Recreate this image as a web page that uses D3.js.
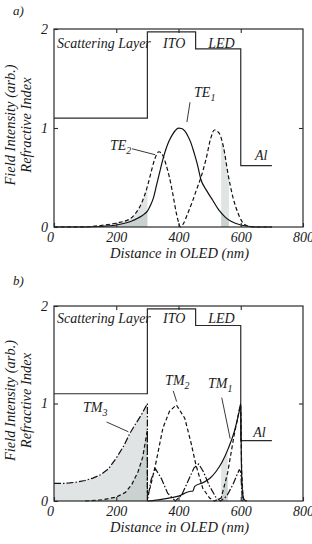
<!DOCTYPE html>
<html><head><meta charset="utf-8">
<script src="https://cdn.jsdelivr.net/npm/d3@7"></script>
</head>
<body style="margin:0;padding:0;background:#fff">
<script>
// ---------- data ----------
const xTicks = [0, 200, 400, 600, 800];
const yTicks = [0, 1, 2];
const layerNames = ["Scattering Layer", "ITO", "LED", "Al"];
const layerX = [0, 300, 455, 600, 700];
const layerN = [1.1, 1.97, 1.8, 0.62, 0.62];

// panel a) TE modes
const te1X = [0,100,150,200,230,250,270,290,300,310,320,330,340,350,360,370,380,390,400,410,420,430,440,450,460,472,490,510,530,550,570,600,630,660,700];
const te1Y = [0,0,0.005,0.02,0.04,0.06,0.09,0.13,0.16,0.22,0.3,0.43,0.56,0.685,0.79,0.87,0.93,0.975,0.998,0.995,0.97,0.92,0.85,0.75,0.64,0.48,0.37,0.27,0.17,0.1,0.055,0.02,0.005,0,0];
const te2X = [0,100,150,200,243,260,275,290,300,310,323,337,350,360,371,382,393,400,406,415,430,445,456,472,488,504,515,530,545,560,575,590,605,620,640,700];
const te2Y = [0,0.002,0.015,0.04,0.08,0.13,0.2,0.31,0.41,0.53,0.68,0.76,0.72,0.63,0.5,0.33,0.14,0.05,0,0.03,0.14,0.26,0.36,0.5,0.68,0.9,0.98,0.95,0.8,0.52,0.3,0.15,0.05,0.012,0,0];

// panel b) TM modes
const tm1X = [300,350,400,440,446,452,480,500,520,540,560,580,595,600,602,606,612,620];
const tm1Y = [0,0.02,0.05,0.1,0.1,0.15,0.19,0.23,0.3,0.4,0.54,0.72,0.92,1.0,0.4,0.08,0.01,0];
const tm2X = [100,150,200,230,250,270,285,300,300,310,328,350,371,393,420,440,456,478,500,515,537,558,579,590,598,600,603,608];
const tm2Y = [0,0.01,0.04,0.09,0.17,0.3,0.45,0.73,0.05,0.15,0.4,0.75,0.92,0.985,0.85,0.6,0.37,0.13,0.03,0,0.03,0.29,0.68,0.85,0.98,0.98,0.3,0];
const tm3X = [0,25,50,75,100,125,150,175,200,225,243,260,280,300,300,312,326,345,365,390,410,430,450,465,480,500,520,535,555,575,595,600,605];
const tm3Y = [0.18,0.18,0.185,0.195,0.21,0.235,0.27,0.33,0.44,0.57,0.69,0.78,0.88,1.0,0,0.22,0.33,0.23,0.08,0,0.06,0.2,0.34,0.38,0.3,0.15,0.04,0,0.05,0.17,0.32,0.3,0];

// shaded ranges (nm)
const shadeA = [[0,300],[537,562]];
const shadeB = [[0,300],[537,558]];

// ---------- drawing ----------
const W = 312, H = 544;
const FONT = "Liberation Serif";
const svg = d3.select("body").append("svg").attr("width", W).attr("height", H).style("display","block");

function seg(xs, ys, a, b) {
  const pts = xs.map((x,i)=>[x, ys[i]]);
  const valAt = (v, last) => {
    if (last) { for (let i = pts.length-1; i >= 0; i--) if (pts[i][0] === v) return pts[i][1]; }
    else { for (let i = 0; i < pts.length; i++) if (pts[i][0] === v) return pts[i][1]; }
    for (let i = 0; i < pts.length-1; i++) {
      const [x0,y0] = pts[i], [x1,y1] = pts[i+1];
      if (x0 <= v && v <= x1 && x1 > x0) return y0 + (y1-y0)*(v-x0)/(x1-x0);
    }
    return 0;
  };
  a = Math.max(a, xs[0]); b = Math.min(b, xs[xs.length-1]);
  const out = [[a, valAt(a, true)]];
  pts.forEach(p => { if (p[0] > a && p[0] < b) out.push(p); });
  out.push([b, valAt(b, false)]);
  return out;
}

function txt(g) { return g.append("text").attr("font-family", FONT).attr("font-style", "italic").attr("fill", "#1a1a1a"); }

function panel(cfg) {
  const x = d3.scaleLinear().domain([0,800]).range([54,303]);
  const y = d3.scaleLinear().domain([0,2]).range([cfg.yBot, cfg.yTop]);
  const g = svg.append("g");

  // shading
  const area = d3.area().x(d=>x(d[0])).y0(y(0)).y1(d=>y(d[1]));
  cfg.shades.forEach(s => {
    s.series.forEach(sr => {
      g.append("path").attr("d", area(seg(sr[0], sr[1], s.range[0], s.range[1])))
        .attr("fill", "#98a4a4").attr("fill-opacity", 0.3).attr("stroke", "none");
    });
  });

  // refractive index
  const steps = layerX.map((v,i)=>[v, layerN[i]]);
  g.append("path").attr("d", d3.line().x(d=>x(d[0])).y(d=>y(d[1])).curve(d3.curveStepAfter)(steps))
    .attr("fill","none").attr("stroke","#2a2a2a").attr("stroke-width",1.2);

  // curves
  const line = d3.line().x(d=>x(d[0])).y(d=>y(d[1])).curve(d3.curveMonotoneX);
  const lineL = d3.line().x(d=>x(d[0])).y(d=>y(d[1]));
  cfg.curves.forEach(c => {
    const pts = c.x.map((v,i)=>[v, c.y[i]]);
    const hasDup = c.x.some((v,i)=>i>0 && v===c.x[i-1]);
    g.append("path").attr("d", (hasDup ? lineL : line)(pts))
      .attr("fill","none").attr("stroke","#111").attr("stroke-width",1.2)
      .attr("stroke-dasharray", c.dash || null);
  });

  // frame
  g.append("rect").attr("x", x(0)).attr("y", y(2)).attr("width", x(800)-x(0)).attr("height", y(0)-y(2))
    .attr("fill","none").attr("stroke","#2a2a2a").attr("stroke-width",1.2);

  const styleAxis = sel => {
    sel.attr("font-family", FONT).attr("font-size", 14);
    sel.select(".domain").remove();
    sel.selectAll("line").attr("stroke","#2a2a2a").attr("stroke-width",1.1);
    sel.selectAll("text").attr("font-family", FONT).attr("font-style","italic").attr("font-size",14).attr("fill","#1a1a1a");
  };
  const xb = g.append("g").attr("transform",`translate(0,${y(0)})`)
    .call(d3.axisBottom(x).tickValues(xTicks).tickSizeInner(-4).tickSizeOuter(0).tickPadding(5).tickFormat(d3.format("d")));
  styleAxis(xb);
  xb.selectAll(".tick text").filter(d=>d===0).attr("dx", -4);
  const xt = g.append("g").attr("transform",`translate(0,${y(2)})`)
    .call(d3.axisTop(x).tickValues(xTicks.slice(1,-1)).tickSizeInner(-4).tickSizeOuter(0).tickFormat(""));
  styleAxis(xt);
  const yl = g.append("g").attr("transform",`translate(${x(0)},0)`)
    .call(d3.axisLeft(y).tickValues(yTicks).tickSizeInner(-4).tickSizeOuter(0).tickPadding(6).tickFormat(d3.format("d")));
  styleAxis(yl);
  const yr = g.append("g").attr("transform",`translate(${x(800)},0)`)
    .call(d3.axisRight(y).tickValues([1]).tickSizeInner(-4).tickSizeOuter(0).tickFormat(""));
  styleAxis(yr);

  // axis titles
  txt(g).attr("x", (x(0)+x(800))/2 + 1).attr("y", y(0)+31).attr("text-anchor","middle")
    .attr("font-size", 14.5).text("Distance in OLED (nm)");
  const cy = (y(0)+y(2))/2 - 3;
  txt(g).attr("transform",`translate(15,${cy}) rotate(-90)`).attr("text-anchor","middle")
    .attr("font-size", 14.5).text("Field Intensity (arb.)");
  txt(g).attr("transform",`translate(31,${cy}) rotate(-90)`).attr("text-anchor","middle")
    .attr("font-size", 14.5).text("Refractive Index");

  // panel letter
  txt(g).attr("x", 13).attr("y", cfg.letterY).attr("font-size", 13).text(cfg.letter);

  // layer labels
  txt(g).attr("x", x(10)).attr("y", y(cfg.layerLabelV)).attr("font-size", 14).text(layerNames[0]);
  txt(g).attr("x", x(386)).attr("y", y(cfg.layerLabelV)).attr("text-anchor","middle").attr("font-size", 14).text(layerNames[1]);
  txt(g).attr("x", x(538)).attr("y", y(cfg.layerLabelV)).attr("text-anchor","middle").attr("font-size", 14).text(layerNames[2]);
  txt(g).attr("x", x(cfg.alPos[0])).attr("y", y(cfg.alPos[1])).attr("font-size", 14).text(layerNames[3]);

  // mode labels
  cfg.labels.forEach(l => {
    const t = txt(g).attr("x", x(l.at[0])).attr("y", y(l.at[1])).attr("font-size", 14);
    t.append("tspan").text(l.name);
    t.append("tspan").attr("dy", 4).attr("font-size", 10).text(l.sub);
    g.append("line").attr("x1", x(l.lead[0])).attr("y1", y(l.lead[1])).attr("x2", x(l.lead[2])).attr("y2", y(l.lead[3]))
      .attr("stroke","#222").attr("stroke-width",0.9);
  });
}

panel({
  yTop: 29, yBot: 227, letter: "a)", letterY: 15, layerLabelV: 1.81, alPos: [646, 0.68],
  curves: [{x: te1X, y: te1Y}, {x: te2X, y: te2Y, dash: "4,2.5"}],
  shades: [
    {range: shadeA[0], series: [[te1X, te1Y],[te2X, te2Y]]},
    {range: shadeA[1], series: [[te1X, te1Y],[te2X, te2Y]]}
  ],
  labels: [
    {name: "TE", sub: "1", at: [450, 1.31], lead: [437, 1.26, 427, 1.06]},
    {name: "TE", sub: "2", at: [180, 0.78], lead: [251, 0.79, 325, 0.73]}
  ]
});

panel({
  yTop: 306, yBot: 501, letter: "b)", letterY: 285, layerLabelV: 1.83, alPos: [640, 0.66],
  curves: [{x: tm1X, y: tm1Y}, {x: tm2X, y: tm2Y, dash: "4,2.5"}, {x: tm3X, y: tm3Y, dash: "7,2,1.5,2"}],
  shades: [
    {range: shadeB[0], series: [[tm3X, tm3Y],[tm2X, tm2Y]]},
    {range: shadeB[1], series: [[tm1X, tm1Y],[tm2X, tm2Y]]}
  ],
  labels: [
    {name: "TM", sub: "3", at: [93, 0.91], lead: [169, 0.81, 239, 0.71]},
    {name: "TM", sub: "2", at: [357, 1.19], lead: [383, 1.13, 394, 1.02]},
    {name: "TM", sub: "1", at: [495, 1.16], lead: [539, 1.06, 566, 0.64]}
  ]
});
</script>
</body></html>
